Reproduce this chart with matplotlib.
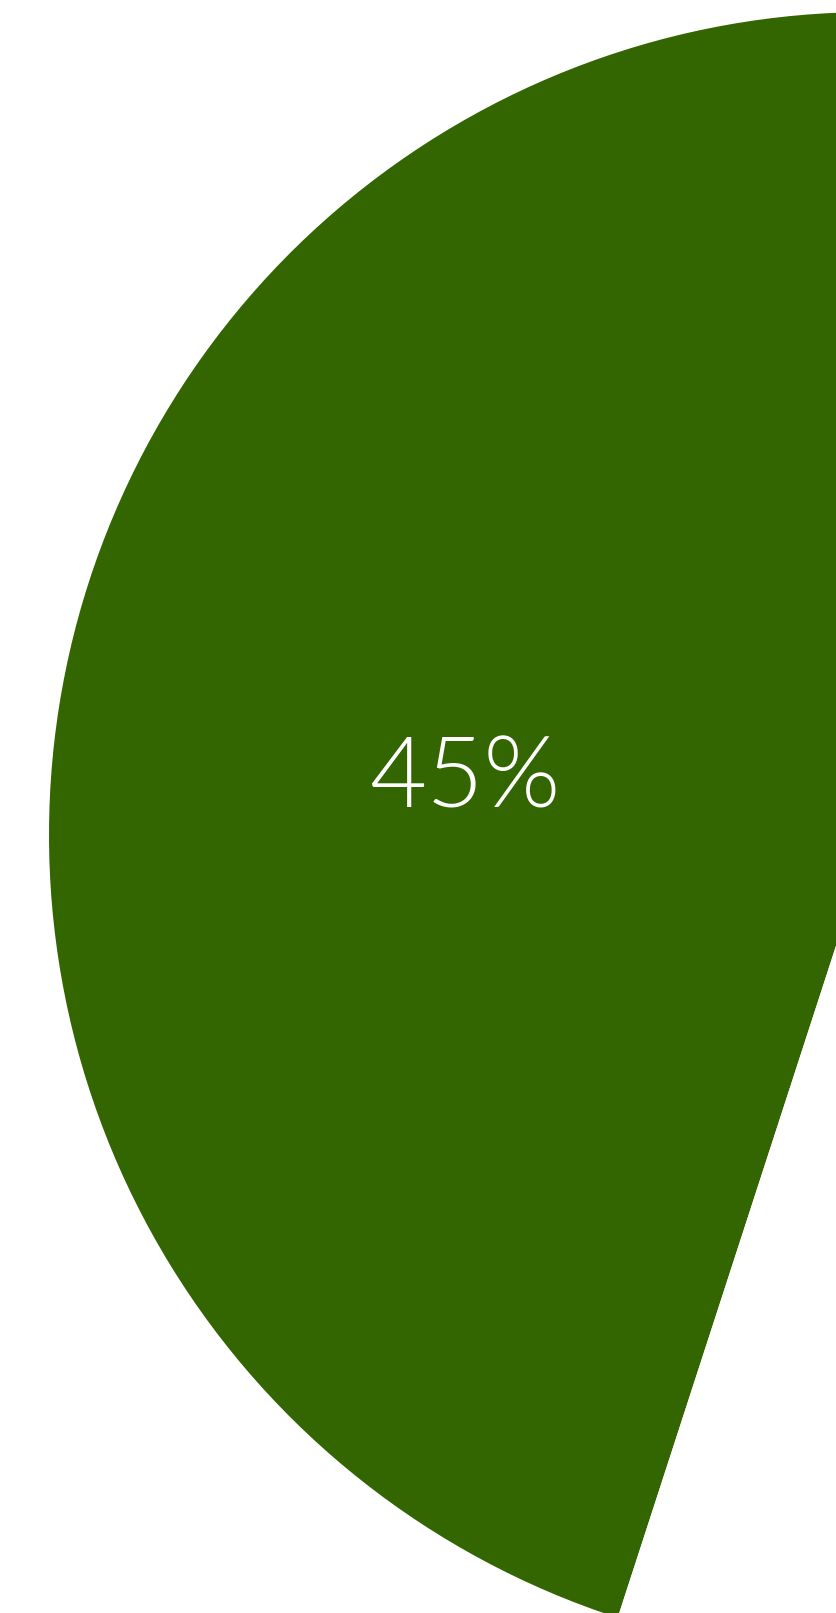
import matplotlib
matplotlib.use("Agg")
import matplotlib.pyplot as plt

categories = ["Share", "Rest"]
values = [45, 55]
colors = ["#336600", "#ffffff"]

W, H = 837, 1613
fig = plt.figure(figsize=(W / 100, H / 100), dpi=100)
ax = fig.add_axes([0, 0, 1, 1])

wedges, texts, autotexts = ax.pie(
    values,
    colors=colors,
    startangle=90,
    counterclock=True,
    center=(872, H - 835),
    radius=823,
    autopct=lambda p: f"{p:.0f}%",
    pctdistance=0.5,
    textprops=dict(color="white", fontsize=71, family=["Lato", "DejaVu Sans"], fontweight=300),
    wedgeprops=dict(linewidth=0),
    frame=True,
)
ax.set_xlim(0, W)
ax.set_ylim(0, H)
ax.set_aspect("equal")
ax.axis("off")
for t in autotexts[1:]:
    t.set_visible(False)
x0, y0 = autotexts[0].get_position()
autotexts[0].set_position((x0, y0 - 10))

fig.savefig("out.png", dpi=100)
